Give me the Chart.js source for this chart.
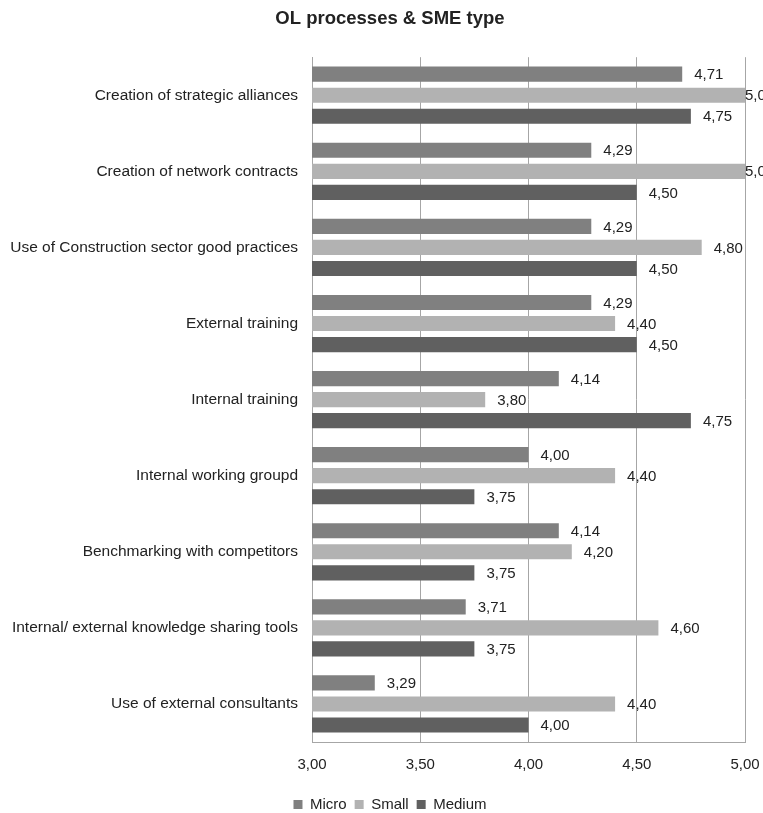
<!DOCTYPE html>
<html>
<head>
<meta charset="utf-8">
<title>OL processes & SME type</title>
<script src="https://cdn.jsdelivr.net/npm/chart.js@4"></script>
<style>
  body { margin: 0; background: #fff; }
  #wrap { width: 763px; height: 813px; }
</style>
</head>
<body>
<div id="wrap"><canvas id="chart" width="763" height="813"></canvas></div>
<script>
const categories = [
  "Creation of strategic alliances",
  "Creation of network contracts",
  "Use of Construction sector good practices",
  "External training",
  "Internal training",
  "Internal working groupd",
  "Benchmarking with competitors",
  "Internal/ external knowledge sharing tools",
  "Use of external consultants"
];
const micro  = [4.71, 4.29, 4.29, 4.29, 4.14, 4.00, 4.14, 3.71, 3.29];
const small  = [5.00, 5.00, 4.80, 4.40, 3.80, 4.40, 4.20, 4.60, 4.40];
const medium = [4.75, 4.50, 4.50, 4.50, 4.75, 3.75, 3.75, 3.75, 4.00];
const xTicks = [3.00, 3.50, 4.00, 4.50, 5.00];

const fmt = v => v.toFixed(2).replace(".", ",");
const FONT = "'Liberation Sans', Arial, sans-serif";

// value labels at the end of each bar
const barLabels = {
  id: "barLabels",
  afterDatasetsDraw(chart) {
    const ctx = chart.ctx;
    const area = chart.chartArea;
    ctx.save();
    ctx.font = "15px " + FONT;
    ctx.fillStyle = "#222";
    ctx.textBaseline = "middle";
    ctx.textAlign = "left";
    chart.data.datasets.forEach((ds, i) => {
      chart.getDatasetMeta(i).data.forEach((bar, j) => {
        const x = Math.min(bar.x + 12, area.right);
        ctx.fillText(fmt(ds.data[j]), x, bar.y + 1);
      });
    });
    ctx.restore();
  }
};

new Chart(document.getElementById("chart"), {
  type: "bar",
  data: {
    labels: categories,
    datasets: [
      { label: "Micro", data: micro, backgroundColor: "#808080" },
      { label: "Small", data: small, backgroundColor: "#b2b2b2" },
      { label: "Medium", data: medium, backgroundColor: "#606060" }
    ]
  },
  options: {
    indexAxis: "y",
    responsive: false,
    animation: false,
    categoryPercentage: 0.83,
    barPercentage: 0.72,
    // negative right padding + empty right axis keeps title/legend centred like the original
    layout: { padding: { left: 0, right: -17, top: 0, bottom: -9 } },
    scales: {
      x: {
        min: 3,
        max: 5,
        afterBuildTicks: scale => { scale.ticks = xTicks.map(v => ({ value: v })); },
        afterFit: scale => {
          scale.height = 47;
          scale.paddingLeft = 0;
          scale.paddingRight = 0;
        },
        ticks: {
          padding: 14,
          color: "#222",
          font: { family: FONT, size: 15 },
          callback: v => fmt(v)
        },
        grid: { color: "#a6a6a6", drawTicks: false },
        border: { display: true, color: "#a6a6a6" }
      },
      y: {
        afterFit: scale => { scale.width = 312; },
        ticks: {
          padding: 14,
          color: "#222",
          font: { family: FONT, size: 15.5 }
        },
        grid: { display: false, drawTicks: false },
        border: { display: true, color: "#a6a6a6" }
      },
      yRight: {
        type: "category",
        position: "right",
        afterFit: scale => { scale.width = 35; },
        ticks: { display: false },
        grid: { display: false, drawTicks: false },
        border: { display: false }
      }
    },
    plugins: {
      title: {
        display: true,
        text: "OL processes & SME type",
        color: "#222",
        font: { family: FONT, size: 18.5, weight: "bold" },
        padding: { top: 8, bottom: 27 }
      },
      legend: {
        position: "bottom",
        labels: {
          boxWidth: 9,
          boxHeight: 9,
          padding: 8,
          color: "#222",
          font: { family: FONT, size: 15 }
        }
      },
      tooltip: { enabled: false }
    }
  },
  plugins: [barLabels]
});
</script>
</body>
</html>
